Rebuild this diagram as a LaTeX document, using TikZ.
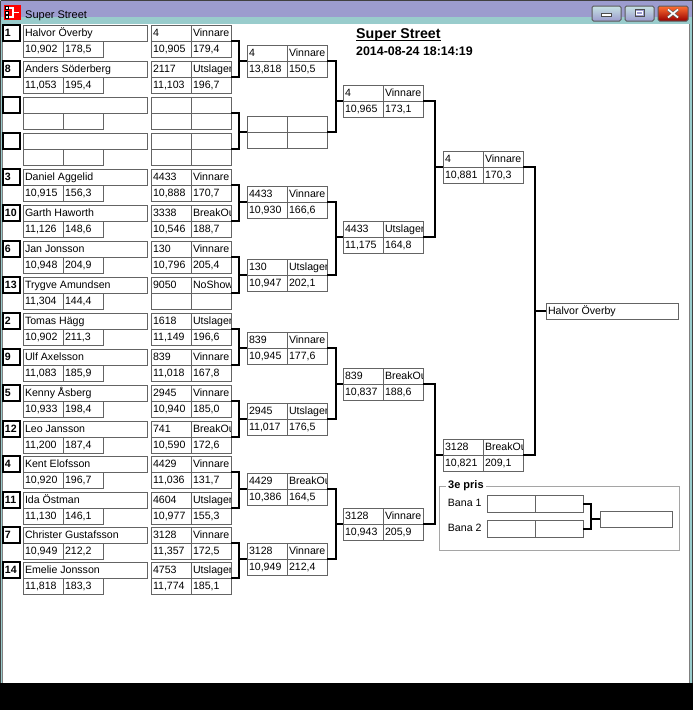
\documentclass[tikz,border=0pt]{standalone}
\usepackage{fontspec}
\setmainfont{Liberation Sans}
\newcommand\cellfont{\fontsize{10.6}{12}\selectfont}
\definecolor{boxgray}{RGB}{100,100,100}
\definecolor{titlepurple}{RGB}{156,156,206}
\definecolor{titleteal}{RGB}{153,204,204}
\definecolor{framegray}{RGB}{165,165,165}
\tikzset{
	cellbox/.style={draw=boxgray, line width=1pt, minimum height=16pt, inner sep=0pt, outer sep=0pt, anchor=north west},
	seedbox/.style={cellbox, draw=black, line width=1.2pt, minimum width=17pt},
	celltext/.style={anchor=base west, inner sep=0pt, minimum width=0pt, minimum height=0pt, draw=none, font=\cellfont},
	txt/.style={path picture={\node[celltext] at ([xshift=2pt,yshift=-3.5pt]path picture bounding box.west) {#1};}},
	bracket/.style={line width=2pt, black},
	winbutton/.style={draw=black!65, line width=1pt, rounded corners=1.5pt, top color=titleteal!55!white, bottom color=titlepurple},
}
% one driver: seed, name and its two times
\newcommand\player[6]{%
	\node[seedbox, txt={\bfseries #3}] (#1-seed) at (3,#2) {};
	\node[cellbox, minimum width=124pt, txt={#4}] (#1-name) at (23,#2) {};
	\node[cellbox, minimum width=40pt, txt={#5}] (#1-ta) at (#1-name.south west) {};
	\node[cellbox, minimum width=40pt, txt={#6}] (#1-tb) at (#1-ta.north east) {};
}
% one result block: number, status and two times
\newcommand\match[7]{%
	\node[cellbox, minimum width=40pt, txt={#4}] (#1-nr) at (#2,#3) {};
	\node[cellbox, minimum width=40pt, txt={#5}] (#1-st) at (#1-nr.north east) {};
	\node[cellbox, minimum width=40pt, txt={#6}] (#1-ta) at (#1-nr.south west) {};
	\node[cellbox, minimum width=40pt, txt={#7}] (#1-tb) at (#1-ta.north east) {};
}
\newcommand\pairline[4]{%
	\draw[bracket] (#1-st.south east) -| ([xshift=-#4pt]#3) |- (#2-st.south east)
		([xshift=-#4pt]#3) -- (#3);
}
\begin{document}
\begin{tikzpicture}[x=1pt, y=-1pt]
	\useasboundingbox (0,0) rectangle (693,710);
	% window
	\fill[black] (0,0) rectangle (693,710);
	\fill[titleteal] (0,0) rectangle (693,683);
	\draw[black!75, line width=1pt] (0.5,0.5) -- (692.5,0.5) -- (692.5,683) (0.5,0.5) -- (0.5,683);
	\fill[titlepurple] (1,1) rectangle (692,17);
	\fill[white] (3,24) rectangle (689,683);
	\draw[black!50, line width=0.8pt] (2.6,24) -- (2.6,683) (689.4,24) -- (689.4,683);
	\fill[red] (4,5) rectangle (21,20);
	\draw[black, fill=white, line width=0.6pt] (5.5,6.5) rectangle (8.5,9.5) (5.5,11) rectangle (8.5,14) (5.5,15.5) rectangle (8.5,18.5);
	\draw[white, line width=1.2pt] (9,8) -- (13,8) -- (13,17) -- (9,17) (13,12.5) -- (19,12.5);
	\node[anchor=base west, inner sep=0pt, font=\fontsize{11}{13}\selectfont] (caption) at (25,18.3) {Super Street};
	\draw[winbutton] (592,6) rectangle (621,21);
	\draw[black!70, fill=white, line width=0.8pt] (601.5,13.5) rectangle (611.5,16.5);
	\draw[winbutton] (625,6) rectangle (654,21);
	\draw[black!70, fill=titlepurple, line width=0.8pt] (635,9.5) rectangle (644,16.5);
	\draw[white, line width=0.8pt] (636.5,11.5) rectangle (642.5,14.5);
	\draw[draw=black!65, line width=1pt, rounded corners=1.5pt, top color=orange!60!red!80, bottom color=red!60!black] (658,6) rectangle (688,21);
	\draw[black!60, line width=3pt] (668,9.5) -- (678,17.5) (668,17.5) -- (678,9.5);
	\draw[white, line width=1.6pt] (668,9.5) -- (678,17.5) (668,17.5) -- (678,9.5);
	% heading
	\node[anchor=base west, inner sep=0pt, font=\fontsize{14.2}{16}\selectfont\bfseries] (heading) at (356,38.5) {Super Street};
	\draw[line width=1.2pt] ([yshift=-2pt]heading.base west) -- ([yshift=-2pt]heading.base east);
	\node[anchor=base west, inner sep=0pt, font=\fontsize{12.4}{14}\selectfont\bfseries] (stamp) at (356,55.7) {2014-08-24 18:14:19};
	% first round
	\player{p1}{25}{1}{Halvor Överby}{10,902}{178,5}
	\player{p2}{61}{8}{Anders Söderberg}{11,053}{195,4}
	\player{p3}{97}{}{}{}{}
	\player{p4}{133}{}{}{}{}
	\player{p5}{169}{3}{Daniel Aggelid}{10,915}{156,3}
	\player{p6}{205}{10}{Garth Haworth}{11,126}{148,6}
	\player{p7}{241}{6}{Jan Jonsson}{10,948}{204,9}
	\player{p8}{277}{13}{Trygve Amundsen}{11,304}{144,4}
	\player{p9}{313}{2}{Tomas Hägg}{10,902}{211,3}
	\player{p10}{349}{9}{Ulf Axelsson}{11,083}{185,9}
	\player{p11}{385}{5}{Kenny Åsberg}{10,933}{198,4}
	\player{p12}{421}{12}{Leo Jansson}{11,200}{187,4}
	\player{p13}{456}{4}{Kent Elofsson}{10,920}{196,7}
	\player{p14}{492}{11}{Ida Östman}{11,130}{146,1}
	\player{p15}{527}{7}{Christer Gustafsson}{10,949}{212,2}
	\player{p16}{562}{14}{Emelie Jonsson}{11,818}{183,3}
	\match{r1a}{151}{25}{4}{Vinnare}{10,905}{179,4}
	\match{r1b}{151}{61}{2117}{Utslagen}{11,103}{196,7}
	\match{r1c}{151}{97}{}{}{}{}
	\match{r1d}{151}{133}{}{}{}{}
	\match{r1e}{151}{169}{4433}{Vinnare}{10,888}{170,7}
	\match{r1f}{151}{205}{3338}{BreakOut}{10,546}{188,7}
	\match{r1g}{151}{241}{130}{Vinnare}{10,796}{205,4}
	\match{r1h}{151}{277}{9050}{NoShow}{}{}
	\match{r1i}{151}{313}{1618}{Utslagen}{11,149}{196,6}
	\match{r1j}{151}{349}{839}{Vinnare}{11,018}{167,8}
	\match{r1k}{151}{385}{2945}{Vinnare}{10,940}{185,0}
	\match{r1l}{151}{421}{741}{BreakOut}{10,590}{172,6}
	\match{r1m}{151}{456}{4429}{Vinnare}{11,036}{131,7}
	\match{r1n}{151}{492}{4604}{Utslagen}{10,977}{155,3}
	\match{r1o}{151}{527}{3128}{Vinnare}{11,357}{172,5}
	\match{r1p}{151}{562}{4753}{Utslagen}{11,774}{185,1}
	% later rounds
	\match{r2a}{247}{45}{4}{Vinnare}{13,818}{150,5}
	\match{r2b}{247}{116}{}{}{}{}
	\match{r2c}{247}{186}{4433}{Vinnare}{10,930}{166,6}
	\match{r2d}{247}{259}{130}{Utslagen}{10,947}{202,1}
	\match{r2e}{247}{332}{839}{Vinnare}{10,945}{177,6}
	\match{r2f}{247}{403}{2945}{Utslagen}{11,017}{176,5}
	\match{r2g}{247}{473}{4429}{BreakOut}{10,386}{164,5}
	\match{r2h}{247}{543}{3128}{Vinnare}{10,949}{212,4}
	\match{r3a}{343}{85}{4}{Vinnare}{10,965}{173,1}
	\match{r3b}{343}{221}{4433}{Utslagen}{11,175}{164,8}
	\match{r3c}{343}{368}{839}{BreakOut}{10,837}{188,6}
	\match{r3d}{343}{508}{3128}{Vinnare}{10,943}{205,9}
	\match{r4a}{443}{151}{4}{Vinnare}{10,881}{170,3}
	\match{r4b}{443}{439}{3128}{BreakOut}{10,821}{209,1}
	\node[cellbox, minimum width=132pt, txt={Halvor Överby}] (fin) at (546,303) {};
	% brackets
	\pairline{r1a}{r1b}{r2a-nr.south west}{8}
	\pairline{r1c}{r1d}{r2b-nr.south west}{8}
	\pairline{r1e}{r1f}{r2c-nr.south west}{8}
	\pairline{r1g}{r1h}{r2d-nr.south west}{8}
	\pairline{r1i}{r1j}{r2e-nr.south west}{8}
	\pairline{r1k}{r1l}{r2f-nr.south west}{8}
	\pairline{r1m}{r1n}{r2g-nr.south west}{8}
	\pairline{r1o}{r1p}{r2h-nr.south west}{8}
	\pairline{r2a}{r2b}{r3a-nr.south west}{7}
	\pairline{r2c}{r2d}{r3b-nr.south west}{7}
	\pairline{r2e}{r2f}{r3c-nr.south west}{7}
	\pairline{r2g}{r2h}{r3d-nr.south west}{7}
	\pairline{r3a}{r3b}{r4a-nr.south west}{8}
	\pairline{r3c}{r3d}{r4b-nr.south west}{8}
	\pairline{r4a}{r4b}{fin.west}{11}
	% third place
	\draw[framegray, line width=1pt] (439,486) rectangle (679,550);
	\node[fill=white, inner sep=2pt, anchor=west, font=\fontsize{11}{13}\selectfont\bfseries] (prize) at (446,486) {3e pris};
	\node[anchor=west, inner sep=0pt, font=\cellfont] (lane1) at (447.7,502.5) {Bana 1};
	\node[anchor=west, inner sep=0pt, font=\cellfont] (lane2) at (447.7,527.5) {Bana 2};
	\node[cellbox, minimum width=48pt, minimum height=17pt] (b1a) at (487,495) {};
	\node[cellbox, minimum width=48pt, minimum height=17pt] (b1b) at (b1a.north east) {};
	\node[cellbox, minimum width=48pt, minimum height=17pt] (b2a) at (487,520) {};
	\node[cellbox, minimum width=48pt, minimum height=17pt] (b2b) at (b2a.north east) {};
	\node[cellbox, minimum width=72pt] (b3) at (600,511) {};
	\draw[bracket] (b1b.east) -| ([xshift=-9pt]b3.west) |- (b2b.east) ([xshift=-9pt]b3.west) -- (b3.west);
\end{tikzpicture}
\end{document}
